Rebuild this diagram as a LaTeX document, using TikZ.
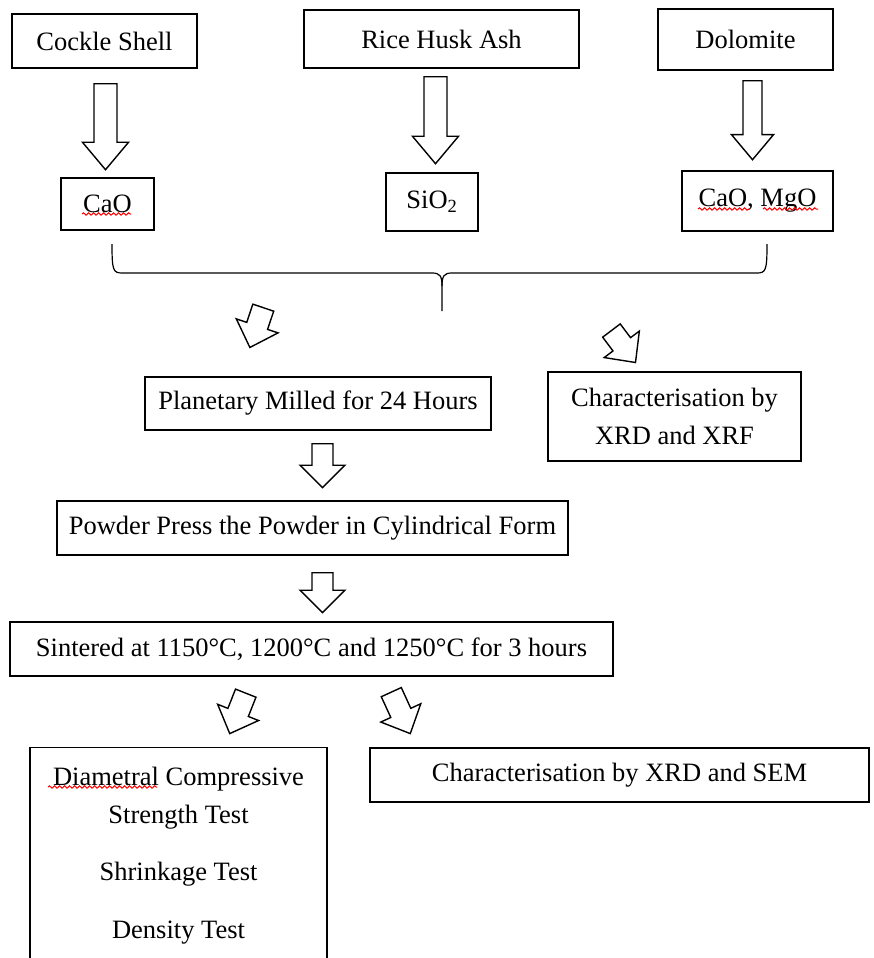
\documentclass[tikz,border=0pt]{standalone}
\usepackage{fontspec}
\setmainfont{Liberation Serif}
\usetikzlibrary{shapes.arrows,decorations.pathmorphing}

\tikzset{
  box/.style={draw, line width=1.4pt, inner sep=0pt, align=center, font=\fontsize{26.5}{38}\selectfont},
  hollow/.style={draw, line width=1.4pt, single arrow, single arrow tip angle=80, inner xsep=0pt, anchor=tail},
  squiggle/.style={red, line width=1pt, decorate, decoration={snake, amplitude=1.2pt, segment length=5pt}}
}

\begin{document}
\begin{tikzpicture}[x=1pt, y=-1pt]
        \useasboundingbox (0,0) rectangle (873,958);

        %Raw materials
        \node [box, minimum width=185pt, minimum height=54pt] (cockle) at (104.5,41) {Cockle Shell};
        \node [box, minimum width=275pt, minimum height=58pt] (husk) at (441.5,39) {Rice Husk Ash};
        \node [box, minimum width=175pt, minimum height=61pt] (dolomite) at (745.5,39.5) {Dolomite};

        %Arrows to oxides
        \node [hollow, rotate=-90, minimum height=86pt, inner ysep=10.8pt, single arrow head extend=11.5pt] (a1) at (105.5,83) {};
        \node [hollow, rotate=-90, minimum height=87pt, inner ysep=10.8pt, single arrow head extend=11.5pt] (a2) at (435.5,76) {};
        \node [hollow, rotate=-90, minimum height=79pt, inner ysep=8.8pt, single arrow head extend=11.5pt] (a3) at (752.5,80) {};

        %Oxides
        \node [box, minimum width=93pt, minimum height=52pt] (cao) at (107.5,204) {CaO};
        \node [box, minimum width=92pt, minimum height=58pt] (sio) at (432,202) {SiO\textsubscript{2}};
        \node [box, minimum width=151pt, minimum height=60pt] (camgo) at (757.5,201) {CaO, MgO};

        %Red underlines
        \draw [squiggle] (82,214) -- (131,214);
        \draw [squiggle] (698,209) -- (750,209);
        \draw [squiggle] (763,209) -- (818,209);

        %Brace
        \draw [line width=1.2pt] (112,244) .. controls (112,270) and (113,273) .. (122,273) -- (432,273)
              .. controls (440,273) and (442,276) .. (442,286) -- (442,311);
        \draw [line width=1.2pt] (767,244) .. controls (767,270) and (766,273) .. (757,273) -- (452,273)
              .. controls (444,273) and (442,276) .. (442,286);

        %Milling and first characterisation
        \node [hollow, rotate=-108.6, minimum height=42pt, inner ysep=10.3pt, single arrow head extend=11pt, single arrow tip angle=88] (d1) at (263.5,307) {};
        \node [hollow, rotate=-53, minimum height=40pt, inner ysep=10.3pt, single arrow head extend=11pt, single arrow tip angle=88] (d2) at (611,330) {};
        \node [box, minimum width=346pt, minimum height=53pt] (mill) at (318,403.5) {Planetary Milled for 24 Hours};
        \node [box, minimum width=253pt, minimum height=89pt] (xrf) at (674.5,416.5) {Characterisation by\\XRD and XRF};

        %Pressing
        \node [hollow, rotate=-90, minimum height=44pt, inner ysep=9.8pt, single arrow head extend=12pt, single arrow tip angle=90] (a4) at (322.5,443) {};
        \node [box, minimum width=511pt, minimum height=54pt] (press) at (312.5,528) {Powder Press the Powder in Cylindrical Form};

        %Sintering
        \node [hollow, rotate=-90, minimum height=40pt, inner ysep=9.8pt, single arrow head extend=12pt, single arrow tip angle=90] (a5) at (322.5,572) {};
        \node [box, minimum width=603pt, minimum height=54pt] (sinter) at (311.5,649) {Sintered at 1150°C, 1200°C and 1250°C for 3 hours};

        %Tests and second characterisation
        \node [hollow, rotate=-111.6, minimum height=43.5pt, inner ysep=10.3pt, single arrow head extend=11pt, single arrow tip angle=88] (d3) at (246,692.5) {};
        \node [hollow, rotate=-65.4, minimum height=45.6pt, inner ysep=10.3pt, single arrow head extend=11pt, single arrow tip angle=88] (d4) at (391,691.5) {};
        \node [box, anchor=north, minimum width=297pt, inner ysep=19pt] (tests) at (178.5,747)
              {Diametral Compressive\\Strength Test\\[19pt]Shrinkage Test\\[20pt]Density Test\\[40pt]\mbox{}};
        \draw [squiggle] (48,787) -- (157,787);
        \node [box, minimum width=499pt, minimum height=54pt] (sem) at (619.5,775) {Characterisation by XRD and SEM};

\end{tikzpicture}
\end{document}
